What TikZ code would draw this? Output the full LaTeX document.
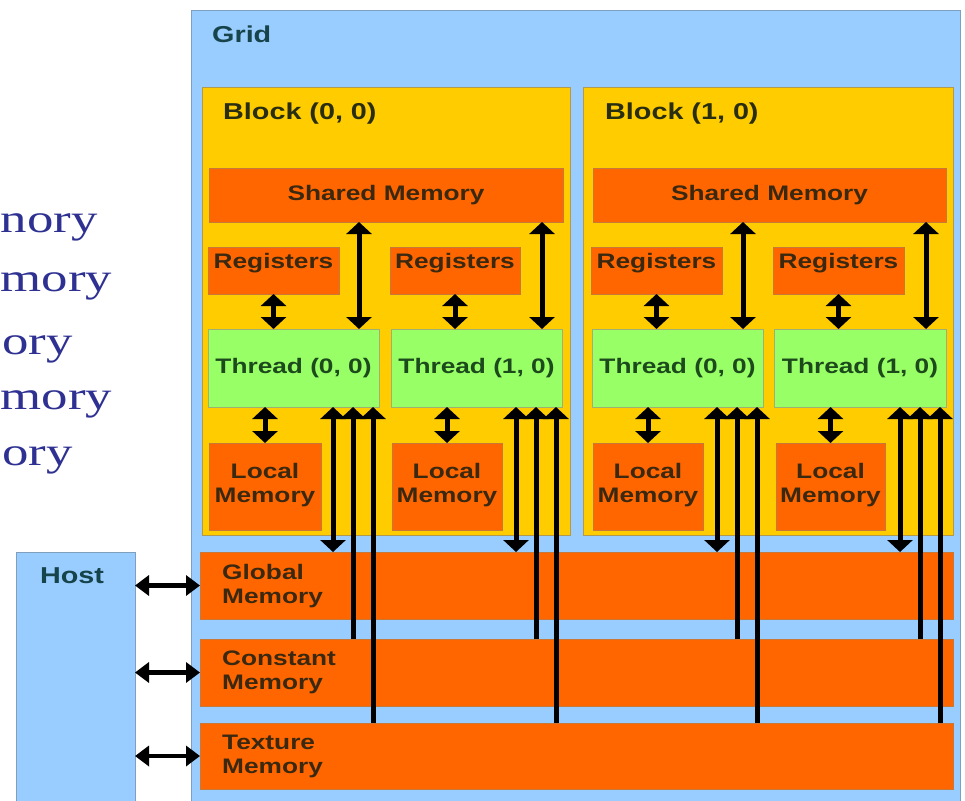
\documentclass[tikz,border=0pt]{standalone}
\usepackage{fontspec}
\usetikzlibrary{arrows.meta,calc,fit}
\newfontfamily\labfont[FakeStretch=1.25]{Liberation Sans}
\newfontfamily\serfont[FakeStretch=1.32]{Liberation Serif}
\definecolor{gridblue}{HTML}{99CCFF}
\definecolor{gridedge}{HTML}{7F9FBF}
\definecolor{blockgold}{HTML}{FFCC00}
\definecolor{blockedge}{HTML}{B09A50}
\definecolor{memorange}{HTML}{FF6600}
\definecolor{memedge}{HTML}{C87838}
\definecolor{threadgreen}{HTML}{99FF66}
\definecolor{threadedge}{HTML}{A0B070}
\definecolor{tealtext}{HTML}{16444A}
\definecolor{blocktext}{HTML}{2A2E10}
\definecolor{memtext}{HTML}{3A2810}
\definecolor{threadtext}{HTML}{1C4A1C}
\definecolor{slideblue}{HTML}{2E3192}
\begin{document}
\begin{tikzpicture}[x=1pt,y=-1pt,
  lab/.style={font=\labfont\bfseries\fontsize{21}{24}\selectfont, inner sep=0pt},
  biglab/.style={font=\labfont\bfseries\fontsize{23}{26}\selectfont, inner sep=0pt},
  memlab/.style={lab, text=memtext, align=center},
  threadlab/.style={lab, text=threadtext},
  gridbox/.style={draw=gridedge, fill=gridblue, line width=0.8pt, inner sep=0pt, outer sep=0pt},
  blockbox/.style={draw=blockedge, fill=blockgold, line width=0.8pt, inner sep=0pt, outer sep=0pt},
  membox/.style={draw=memedge, fill=memorange, line width=0.8pt, inner sep=0pt, outer sep=0pt},
  threadbox/.style={draw=threadedge, fill=threadgreen, line width=0.8pt, inner sep=0pt, outer sep=0pt},
  dbl/.style={line width=5pt, {Triangle[width=25pt,length=12pt]}-{Triangle[width=25pt,length=12pt]}},
  upar/.style={line width=5pt, -{Triangle[width=25pt,length=12pt]}},
  hdbl/.style={line width=4.5pt, {Triangle[width=20pt,length=14pt]}-{Triangle[width=20pt,length=14pt]}},
  slide/.style={font=\serfont\fontsize{40}{44}\selectfont, text=slideblue, inner sep=0pt, anchor=base west}
]
\useasboundingbox (0,0) rectangle (965,800);
\clip (0,0) rectangle (965,800);
\fill[white] (0,0) rectangle (965,800);

% slide text fragments at the left edge
\node[slide] (t1) at (0.5,232) {nory};
\node[slide] (t2) at (0.5,291) {mory};
\node[slide] (t3) at (2,354) {ory};
\node[slide] (t4) at (0.5,409) {mory};
\node[slide] (t5) at (2,465) {ory};

% grid and host
\node[gridbox, fit={(191,10) (960,812)}] (grid) {};
\node[biglab, text=tealtext, anchor=west] (gridlab) at (212,34) {Grid};
\node[gridbox, fit={(16,552) (135,812)}] (host) {};
\node[biglab, text=tealtext] (hostlab) at (72,576) {Host};

% blocks
\node[blockbox, fit={(202,87) (570,535)}] (blk0) {};
\node[blockbox, fit={(583,87) (953,535)}] (blk1) {};
\node[biglab, text=blocktext, anchor=west] (blk0lab) at (223,114) {Block (0, 0)};
\node[biglab, text=blocktext, anchor=west] (blk1lab) at (605,114) {Block (1, 0)};

% shared memory
\node[membox, fit={(209,168) (563,222)}] (sh0) {};
\node[membox, fit={(593,168) (946,222)}] (sh1) {};
\node[memlab] at (sh0.center) {Shared Memory};
\node[memlab] at (sh1.center) {Shared Memory};

% registers
\node[membox, fit={(208,247) (339,294)}] (reg0a) {};
\node[membox, fit={(390,247) (520,294)}] (reg0b) {};
\node[membox, fit={(591,247) (722,294)}] (reg1a) {};
\node[membox, fit={(773,247) (904,294)}] (reg1b) {};
\foreach \r in {reg0a,reg0b,reg1a,reg1b}
  \node[memlab] at ($(\r.north)+(0,16)$) {Registers};

% threads
\node[threadbox, fit={(208,329) (379,407)}] (th0a) {};
\node[threadbox, fit={(391,329) (562,407)}] (th0b) {};
\node[threadbox, fit={(592,329) (763,407)}] (th1a) {};
\node[threadbox, fit={(774,329) (946,407)}] (th1b) {};
\node[threadlab] at (th0a.center) {Thread (0, 0)};
\node[threadlab] at (th0b.center) {Thread (1, 0)};
\node[threadlab] at (th1a.center) {Thread (0, 0)};
\node[threadlab] at (th1b.center) {Thread (1, 0)};

% local memory
\node[membox, fit={(209,443) (321,530)}] (lm0a) {};
\node[membox, fit={(392,443) (502,530)}] (lm0b) {};
\node[membox, fit={(593,443) (703,530)}] (lm1a) {};
\node[membox, fit={(776,443) (885,530)}] (lm1b) {};
\foreach \l in {lm0a,lm0b,lm1a,lm1b}
  \node[memlab] at ($(\l.center)+(0,-1)$) {Local\\Memory};

% device memories
\node[membox, fit={(200,552) (953,619)}] (gm) {};
\node[membox, fit={(200,639) (953,706)}] (cm) {};
\node[membox, fit={(200,723) (953,789)}] (tm) {};
\node[memlab, align=left, anchor=west] (gmlab) at ($(gm.west)+(22,1)$) {Global\\Memory};
\node[memlab, align=left, anchor=west] (cmlab) at ($(cm.west)+(22,0)$) {Constant\\Memory};
\node[memlab, align=left, anchor=west] (tmlab) at ($(tm.west)+(22,0)$) {Texture\\Memory};

% connectors inside blocks
\foreach \t/\r/\l/\s in {th0a/reg0a/lm0a/sh0, th0b/reg0b/lm0b/sh0, th1a/reg1a/lm1a/sh1, th1b/reg1b/lm1b/sh1} {
  \draw[dbl] (\r.south) -- (\r.south |- \t.north);
  \draw[dbl] (\l.north) -- (\l.north |- \t.south);
  \coordinate (ps) at ($(\t.north east)+(-20,0)$);
  \draw[dbl] (ps) -- (ps |- \s.south);
  \coordinate (pg) at ($(\t.south east)+(-46,0)$);
  \draw[dbl] (pg) -- (pg |- gm.north);
  \coordinate (pc) at ($(\t.south east)+(-26,0)$);
  \draw[upar] (pc |- cm.north) -- (pc);
  \coordinate (pt) at ($(\t.south east)+(-6,0)$);
  \draw[upar] (pt |- tm.north) -- (pt);
}

% host connectors
\draw[hdbl] (gm.west -| host.east) -- (gm.west);
\draw[hdbl] (cm.west -| host.east) -- (cm.west);
\draw[hdbl] (tm.west -| host.east) -- (tm.west);
\end{tikzpicture}
\end{document}
